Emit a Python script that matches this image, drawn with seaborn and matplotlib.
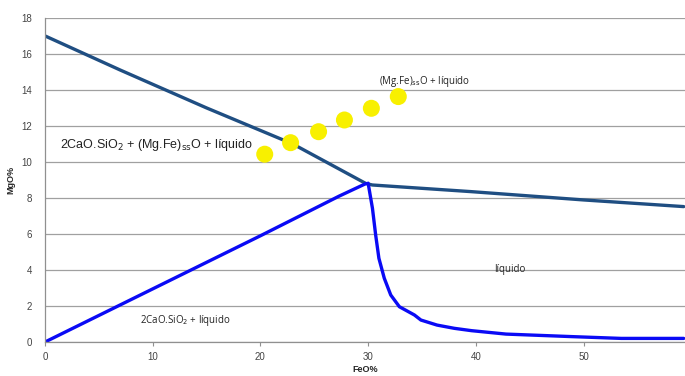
import matplotlib
matplotlib.use("Agg")
import matplotlib.pyplot as plt
import seaborn as sns
import pandas as pd

# Upper boundary (dark blue)
upper_feo = [0, 7, 15, 23, 29.8, 30.4, 39.6, 50, 59.3]
upper_mgo = [17, 15.1, 13.0, 11.0, 8.8, 8.72, 8.35, 7.89, 7.52]

# Lower-left boundary (bright blue, rising)
rise_feo = [0, 10, 20, 27.3, 29.8]
rise_mgo = [0, 2.95, 5.9, 8.1, 8.8]

# Falling curve (bright blue)
fall_feo = [30.0, 30.4, 30.7, 31.0, 31.5, 32.1, 32.9, 34.3, 34.9, 36.4, 38.0, 39.6, 42.8, 48.9, 53.5, 59.3]
fall_mgo = [8.82, 7.43, 5.94, 4.65, 3.54, 2.61, 1.96, 1.5, 1.22, 0.94, 0.76, 0.63, 0.44, 0.30, 0.20, 0.20]

# Yellow points
pts_feo = [20.4, 22.8, 25.4, 27.8, 30.3, 32.8]
pts_mgo = [10.43, 11.07, 11.68, 12.33, 12.98, 13.63]

xticks = [0, 10, 20, 30, 40, 50]
yticks = [0, 2, 4, 6, 8, 10, 12, 14, 16, 18]

sns.set_style("white")
plt.rcParams['font.family'] = ['Liberation Sans', 'DejaVu Sans']

fig = plt.figure(figsize=(6.85, 3.76), dpi=100)
ax = fig.add_axes([0.0657, 0.0904, 0.934, 0.862])

dark = "#1f4e82"
bright = "#0a0af5"

sns.lineplot(x=upper_feo, y=upper_mgo, ax=ax, color=dark, linewidth=2.4, sort=False)
sns.lineplot(x=rise_feo, y=rise_mgo, ax=ax, color=bright, linewidth=2.4, sort=False)
sns.lineplot(x=fall_feo, y=fall_mgo, ax=ax, color=bright, linewidth=2.4, sort=False)
sns.scatterplot(x=pts_feo, y=pts_mgo, ax=ax, color="#f8f000", s=150, edgecolor="none", zorder=5)

ax.set_xlim(0, 59.4)
ax.set_ylim(0, 18)
ax.set_xticks(xticks)
ax.set_yticks(yticks)
ax.yaxis.grid(True, color="#a0a0a0", linewidth=0.9)
ax.xaxis.grid(False)
for s in ["top", "right"]:
    ax.spines[s].set_visible(False)
for s in ["left", "bottom"]:
    ax.spines[s].set_color("#909090")
    ax.spines[s].set_linewidth(0.9)
ax.tick_params(axis="x", which="both", bottom=True, length=3, color="#909090", labelsize=7, labelcolor="#444444", pad=4)
ax.tick_params(axis="y", which="both", left=False, labelsize=7, labelcolor="#444444", pad=6)

ax.set_xlabel("FeO%", fontsize=6.5, fontweight="bold")
ax.set_ylabel("MgO%", fontsize=6.5, fontweight="bold")
ax.xaxis.set_label_coords(0.5, -0.072)
ax.yaxis.set_label_coords(-0.047, 0.5)

ax.text(1.4, 10.95, r"2CaO.SiO$_2$ + (Mg.Fe)$_{\mathrm{ss}}$O + líquido", fontsize=9, color="#222222", va="center", ha="left")
ax.text(35.2, 14.45, r"(Mg.Fe)$_{\mathrm{ss}}$O + líquido", fontsize=7, color="#222222", va="center", ha="center", family=["Open Sans", "DejaVu Sans"])
ax.text(43.2, 4.05, "líquido", fontsize=7, color="#222222", va="center", ha="center", family=["Open Sans", "DejaVu Sans"])
ax.text(8.8, 1.17, r"2CaO.SiO$_2$ + líquido", fontsize=7, color="#222222", va="center", ha="left", family=["Open Sans", "DejaVu Sans"])

fig.savefig("out.png", dpi=100)
